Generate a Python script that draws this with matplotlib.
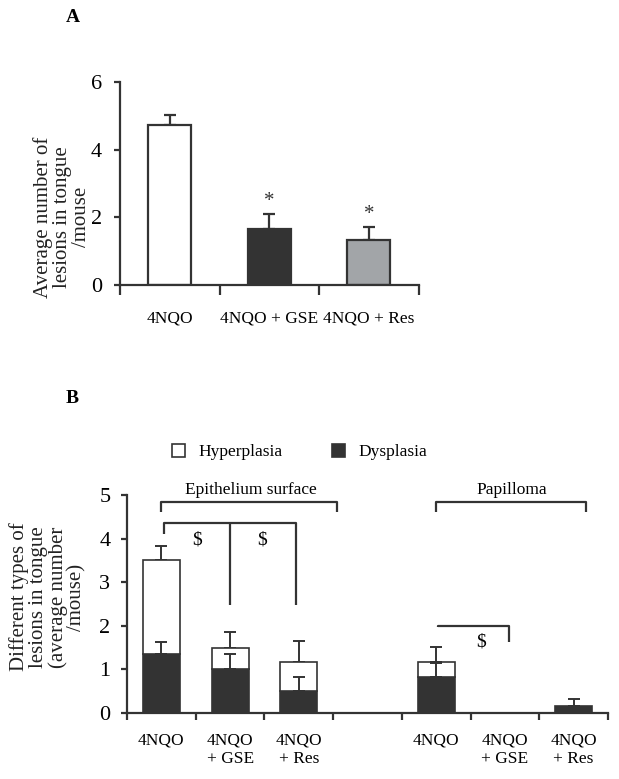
import numpy as np
import matplotlib.pyplot as plt

plt.rcParams['font.family'] = ['Liberation Serif', 'DejaVu Serif']

# panel A data
groups_a = ['4NQO', '4NQO + GSE', '4NQO + Res']
mean_a = [4.72, 1.65, 1.33]
err_a = [0.30, 0.45, 0.38]
colors_a = ['white', '#333333', '#a2a5a8']
sig_a = ['', '*', '*']

# panel B data (slot 3 is the gap between the two groups)
labels_b = ['4NQO', '4NQO\n+ GSE', '4NQO\n+ Res', '', '4NQO', '4NQO\n+ GSE', '4NQO\n+ Res']
dysplasia = [1.35, 1.00, 0.50, 0, 0.83, 0, 0.17]
dysplasia_err = [0.29, 0.35, 0.33, 0, 0.32, 0, 0.16]
hyperplasia = [2.15, 0.50, 0.67, 0, 0.34, 0, 0]
total_err = [0.34, 0.36, 0.49, 0, 0.34, 0, 0]

dark = '#333333'
lw = 1.6

fig = plt.figure(figsize=(6.19, 7.79), dpi=100)

# ---------------- A ----------------
ax = fig.add_axes([0.1939, 0.6341, 0.4822, 0.2606])
xa = np.arange(len(groups_a))
ax.bar(xa, mean_a, width=0.43, color=colors_a, edgecolor=dark, linewidth=lw, zorder=2)
ax.errorbar(xa, mean_a, yerr=[np.zeros(3), err_a], fmt='none', ecolor=dark,
            elinewidth=lw, capsize=4, capthick=lw, zorder=1)
for i in range(3):
    if sig_a[i]:
        ax.text(xa[i], mean_a[i] + err_a[i] + 0.08, sig_a[i], ha='center', va='bottom',
                fontsize=15, color=dark)
ax.set_xlim(-0.5, 2.5)
ax.set_ylim(0, 6)
ax.set_yticks([0, 2, 4, 6])
ax.set_xticks(np.arange(-0.5, 3, 1))
ax.set_xticklabels([])
ax.set_xticks(xa, minor=True)
ax.set_xticklabels(groups_a, minor=True)
ax.tick_params(axis='x', which='major', direction='out', length=7, width=lw, color=dark)
ax.tick_params(axis='x', which='minor', length=0, pad=18, labelsize=12.5)
ax.tick_params(axis='y', direction='out', length=4, width=lw, color=dark, labelsize=16, pad=9)
for s in ['top', 'right']:
    ax.spines[s].set_visible(False)
for s in ['left', 'bottom']:
    ax.spines[s].set_linewidth(lw)
    ax.spines[s].set_color(dark)
fig.text(62 / 619, 1 - 217 / 779, 'Average number of\nlesions in tongue\n/mouse',
         rotation=90, ha='center', va='center', fontsize=15, linespacing=1.0, color='#222222')
fig.text(73 / 619, 1 - 17 / 779, 'A', fontsize=14, fontweight='bold', ha='center', va='center')

# ---------------- B ----------------
bx = fig.add_axes([0.2052, 0.0847, 0.7770, 0.2799])
xb = np.arange(len(labels_b))
dys = np.array(dysplasia)
hyp = np.array(hyperplasia)
mask = (dys + hyp) > 0
h1 = bx.bar(xb[mask], dys[mask], width=0.54, color=dark, edgecolor=dark, linewidth=1.2, zorder=2)
h2 = bx.bar(xb[mask & (hyp > 0)], hyp[mask & (hyp > 0)], bottom=dys[mask & (hyp > 0)],
            width=0.54, color='white', edgecolor=dark, linewidth=1.2, zorder=2)
te = np.array(total_err)
de = np.array(dysplasia_err)
m = te > 0
bx.errorbar(xb[m], (dys + hyp)[m], yerr=[np.zeros(m.sum()), te[m]], fmt='none',
            ecolor=dark, elinewidth=1.4, capsize=4, capthick=1.4, zorder=1)
m = de > 0
bx.errorbar(xb[m], dys[m], yerr=[np.zeros(m.sum()), de[m]], fmt='none',
            ecolor=dark, elinewidth=1.4, capsize=4, capthick=1.4, zorder=3)

bx.set_xlim(-0.5, 6.5)
bx.set_ylim(0, 5)
bx.set_yticks(range(6))
bx.set_xticks(np.arange(-0.5, 7, 1))
bx.set_xticklabels([])
bx.set_xticks(xb, minor=True)
bx.set_xticklabels(labels_b, minor=True, va='top')
bx.tick_params(axis='x', which='major', direction='out', length=5, width=lw, color=dark)
bx.tick_params(axis='x', which='minor', length=0, pad=14, labelsize=12.5)
bx.tick_params(axis='y', direction='out', length=4, width=lw, color=dark, labelsize=16, pad=8)
for s in ['top', 'right']:
    bx.spines[s].set_visible(False)
for s in ['left', 'bottom']:
    bx.spines[s].set_linewidth(lw)
    bx.spines[s].set_color(dark)

# brackets
kw = dict(color=dark, lw=lw, clip_on=False, solid_capstyle='butt')
bx.plot([0, 0, 2.56, 2.56], [4.6, 4.85, 4.85, 4.6], **kw)
bx.text(1.3, 5.12, 'Epithelium surface', ha='center', va='center', fontsize=12.5)
bx.plot([4, 4, 6.18, 6.18], [4.6, 4.85, 4.85, 4.6], **kw)
bx.text(5.1, 5.12, 'Papilloma', ha='center', va='center', fontsize=12.5)
bx.plot([0.04, 0.04, 1.96, 1.96], [4.1, 4.35, 4.35, 2.48], **kw)
bx.plot([1, 1], [4.35, 2.48], **kw)
bx.text(0.52, 3.97, '$', ha='center', va='center', fontsize=14)
bx.text(1.47, 3.97, '$', ha='center', va='center', fontsize=14)
bx.plot([4.03, 4.03, 5.06, 5.06], [1.97, 2.0, 2.0, 1.64], **kw)
bx.text(4.66, 1.62, '$', ha='center', va='center', fontsize=14)

fig.text(48 / 619, 1 - 597 / 779,
         'Different types of\nlesions in tongue\n(average number\n/mouse)',
         rotation=90, ha='center', va='center', fontsize=15, linespacing=1.0, color='#222222')
fig.text(72 / 619, 1 - 398 / 779, 'B', fontsize=14, fontweight='bold', ha='center', va='center')

fig.legend([h2, h1], ['Hyperplasia', 'Dysplasia'], loc='center',
           bbox_to_anchor=(0.484, 1 - 452 / 779), ncol=2, frameon=False, fontsize=12.5,
           handlelength=0.75, handleheight=0.75, handletextpad=0.8, columnspacing=2.8)

fig.savefig('out.png', dpi=100)
